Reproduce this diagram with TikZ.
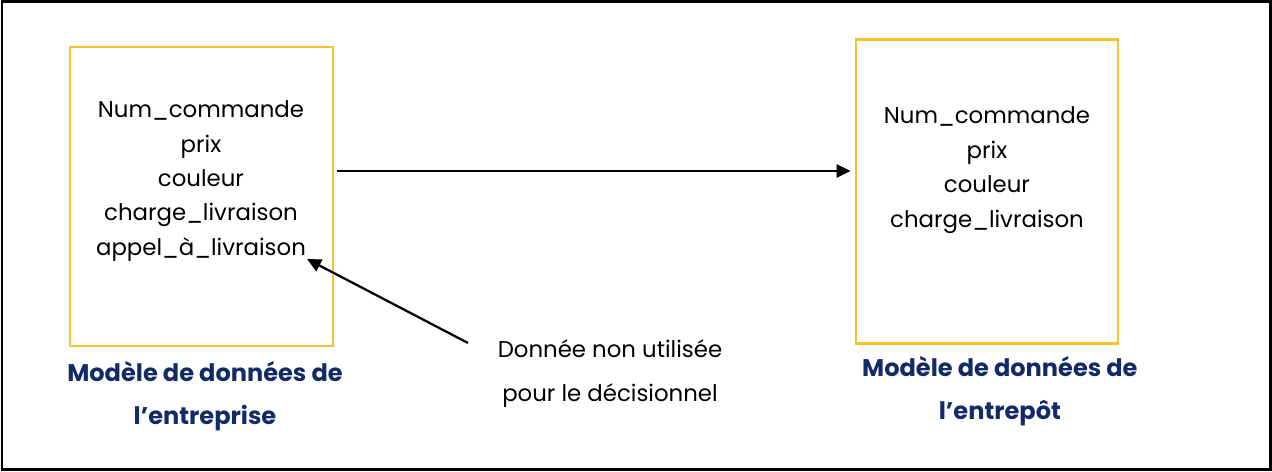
\documentclass[tikz,border=0pt]{standalone}
\usepackage{fontspec}
\setmainfont{Poppins}
\usetikzlibrary{positioning,arrows.meta}
\definecolor{jaune}{HTML}{F5C230}
\definecolor{marine}{HTML}{122A66}

\begin{document}
\begin{tikzpicture}[x=0.02cm,y=-0.02cm,node distance=4cm,on grid,
	modele/.style={draw=jaune,line width=0.05cm,minimum width=5.26cm,minimum height=5.98cm},
	champs/.style={align=center,font=\fontsize{13}{19.6}\selectfont},
	titre/.style={align=center,text=marine,font=\fontsize{13.7}{24.4}\selectfont\bfseries},
	note/.style={align=center,font=\fontsize{13}{25}\selectfont},
	fleche/.style={-{Triangle[length=0.28cm,width=0.26cm]},line width=0.045cm}]
		\useasboundingbox (0,0) rectangle (1272,472);
		\draw[line width=0.06cm] (2,2) rectangle (1270,470);
		\node[modele] (entreprise) at (201.5,196.5) {};
		\node[modele,minimum width=5.24cm,minimum height=6.08cm] (entrepot) [right=15.71cm of entreprise,yshift=0.1cm] {};
		\node[champs] (champs_e) at (201,181) {Num\_commande\\prix\\couleur\\charge\_livraison\\appel\_à\_livraison};
		\node[champs] (champs_d) at (987,170) {Num\_commande\\prix\\couleur\\charge\_livraison};
		\node[titre] (titre_e) [below=of entreprise,xshift=0.07cm] {Modèle de données de\\l’entreprise};
		\node[titre] (titre_d) [below=of entrepot,xshift=0.26cm] {Modèle de données de\\l’entrepôt};
		\node[note] (note) at (610,374) {Donnée non utilisée\\pour le décisionnel};
		\coordinate (pointe) at (307,259);
		\coordinate (depart) at (468,343);
		\draw[fleche] ([xshift=0.06cm,yshift=0.51cm]entreprise.east) -- ([xshift=-0.08cm,yshift=0.51cm]entreprise.east -| entrepot.west);
		\draw[fleche] (depart) -- (pointe);
	\end{tikzpicture}
\end{document}
